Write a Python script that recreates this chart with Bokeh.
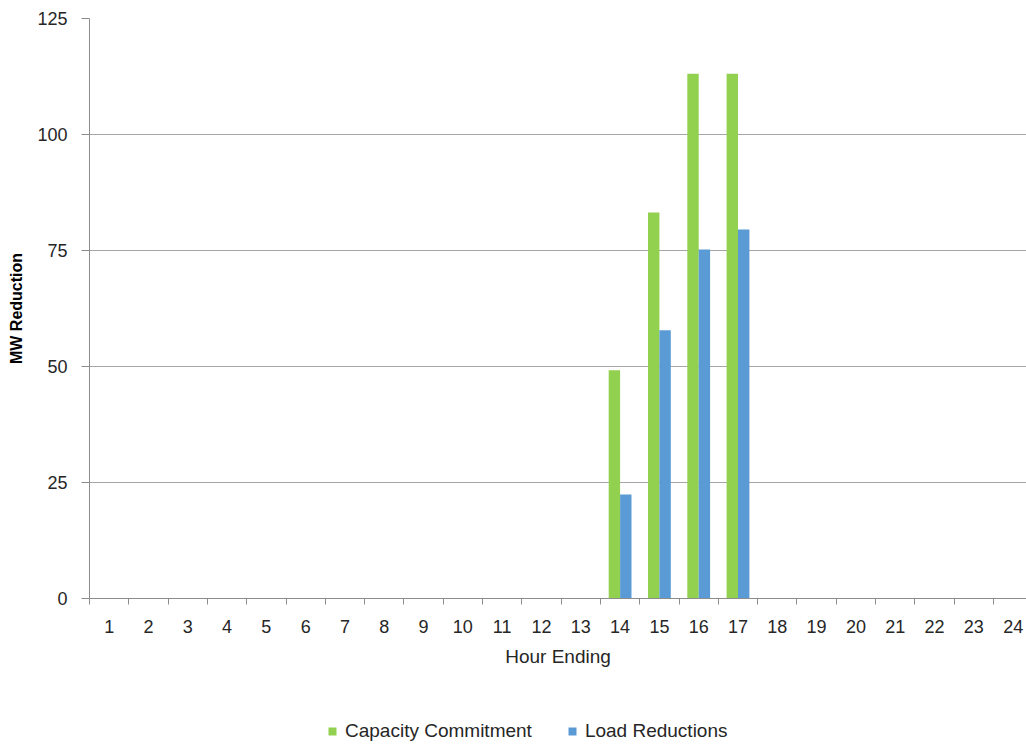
from bokeh.plotting import figure
from bokeh.layouts import column
from bokeh.models import ColumnDataSource, FixedTicker, Range1d, Legend, LegendItem
from bokeh.transform import dodge
from bokeh.embed import file_html
from bokeh.resources import INLINE

hours = list(range(1, 25))
capacity_commitment = [0]*13 + [49.2, 83.2, 113.1, 113.1] + [0]*7
load_reductions = [0]*13 + [22.4, 57.8, 75.2, 79.5] + [0]*7
y_ticks = [0, 25, 50, 75, 100, 125]
series_names = ["Capacity Commitment", "Load Reductions"]

GREEN = "#92D050"
BLUE = "#5B9BD5"
FONT = "Liberation Sans"
W = 1026

src = ColumnDataSource(dict(hour=hours, cap=capacity_commitment, load=load_reductions))

H1 = 700
p = figure(width=W, height=H1, output_backend="svg", toolbar_location=None,
           x_range=Range1d(0.5, 24.34), y_range=Range1d(0, 125),
           min_border_left=89, min_border_right=0, min_border_top=18, min_border_bottom=H1 - 598)
p.outline_line_color = None
p.background_fill_color = "white"

bw = 0.29
r1 = p.vbar(x=dodge("hour", -bw/2, range=p.x_range), top="cap", width=bw, bottom=0,
            source=src, fill_color=GREEN, line_color=None)
r2 = p.vbar(x=dodge("hour", bw/2, range=p.x_range), top="load", width=bw, bottom=0,
            source=src, fill_color=BLUE, line_color=None)

# X axis
xa = p.xaxis[0]
xa.ticker = FixedTicker(ticks=hours, minor_ticks=[h + 0.5 for h in [0] + hours])
xa.major_tick_out = 0
xa.major_tick_in = 0
xa.minor_tick_out = 6
xa.minor_tick_in = 0
xa.minor_tick_line_color = "#8c8c8c"
xa.axis_line_color = "#8c8c8c"
xa.major_label_text_font = FONT
xa.major_label_text_font_size = "18px"
xa.major_label_text_color = "#262626"
xa.major_label_standoff = 15
xa.axis_label = "Hour Ending"
xa.axis_label_text_font = FONT
xa.axis_label_text_font_style = "normal"
xa.axis_label_text_font_size = "19px"
xa.axis_label_text_color = "#262626"
xa.axis_label_standoff = 10

# Y axis
ya = p.yaxis[0]
ya.ticker = FixedTicker(ticks=y_ticks)
ya.major_tick_out = 8
ya.major_tick_in = 0
ya.minor_tick_line_color = None
ya.axis_line_color = "#8c8c8c"
ya.major_tick_line_color = "#8c8c8c"
ya.major_label_text_font = FONT
ya.major_label_text_font_size = "18px"
ya.major_label_text_color = "#262626"
ya.major_label_standoff = 14
ya.axis_label = "MW Reduction"
ya.axis_label_text_font = FONT
ya.axis_label_text_font_style = "bold"
ya.axis_label_text_font_size = "16px"
ya.axis_label_text_color = "#000000"
ya.axis_label_standoff = 9

p.xgrid.grid_line_color = None
p.ygrid.grid_line_color = "#a6a6a6"
p.ygrid.grid_line_width = 1

# Legend strip below the chart (its frame is aligned with the chart frame)
H2 = 745 - H1
lg = figure(width=W, height=H2, output_backend="svg", toolbar_location=None,
            x_range=Range1d(-100, -99), y_range=Range1d(0, 1),
            x_axis_location=None, y_axis_location=None,
            min_border_left=0, min_border_right=0, min_border_top=0, min_border_bottom=0)
lg.outline_line_color = None
lg.xgrid.visible = False
lg.ygrid.visible = False
l1 = lg.vbar(x="hour", top="cap", width=bw, source=src, fill_color=GREEN, line_color=None)
l2 = lg.vbar(x="hour", top="load", width=bw, source=src, fill_color=BLUE, line_color=None)

legend = Legend(items=[LegendItem(label=series_names[0], renderers=[l1]),
                       LegendItem(label=series_names[1], renderers=[l2])],
                orientation="horizontal", location=(238, 3),
                glyph_width=10, glyph_height=10, label_standoff=8, spacing=35,
                padding=0, margin=0, border_line_color=None, background_fill_alpha=0,
                label_text_font=FONT, label_text_font_size="19px", label_text_color="#262626")
lg.add_layout(legend, "center")

open("out.html", "w").write(file_html(column(p, lg, spacing=0), INLINE))
